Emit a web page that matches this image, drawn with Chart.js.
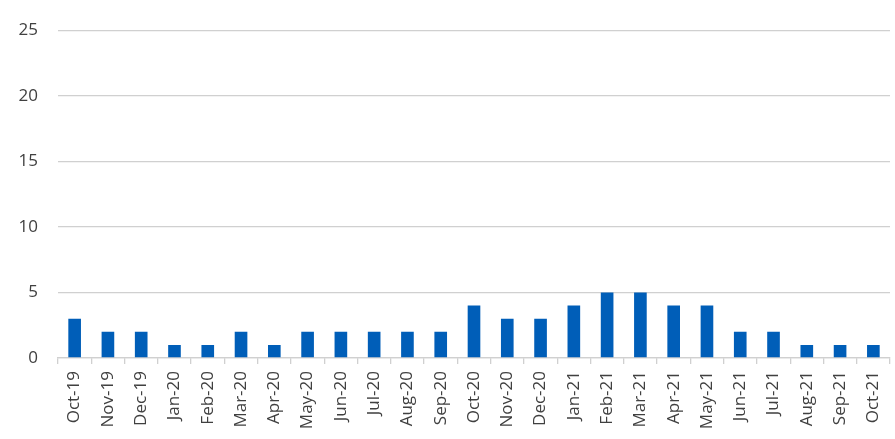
<!DOCTYPE html>
<html>
<head>
<meta charset="utf-8">
<script src="https://cdn.jsdelivr.net/npm/chart.js@4/dist/chart.umd.min.js"></script>
<style>
html,body{margin:0;padding:0;background:#fff;}
#wrap{width:895px;height:439px;}
</style>
</head>
<body>
<div id="wrap"><canvas id="c" width="895" height="439"></canvas></div>
<script>
const categories = ["Oct-19","Nov-19","Dec-19","Jan-20","Feb-20","Mar-20","Apr-20","May-20","Jun-20","Jul-20","Aug-20","Sep-20","Oct-20","Nov-20","Dec-20","Jan-21","Feb-21","Mar-21","Apr-21","May-21","Jun-21","Jul-21","Aug-21","Sep-21","Oct-21"];
const values = [3,2,2,1,1,2,1,2,2,2,2,2,4,3,3,4,5,5,4,4,2,2,1,1,1];
const yTicks = [0,5,10,15,20,25];

new Chart(document.getElementById('c'), {
  type: 'bar',
  data: {
    labels: categories,
    datasets: [{
      data: values,
      backgroundColor: '#005EB8',
      barPercentage: 0.38,
      categoryPercentage: 1.0
    }]
  },
  options: {
    responsive: false,
    animation: false,
    layout: { padding: { top: 30, right: 5, left: 0, bottom: 0 } },
    plugins: { legend: { display: false }, tooltip: { enabled: false } },
    scales: {
      x: {
        grid: { offset: true, drawOnChartArea: false, drawTicks: true, tickLength: 6, color: '#D0D0D0', lineWidth: 1.3 },
        border: { display: true, color: '#D0D0D0', width: 1.3 },
        ticks: {
          maxRotation: 90, minRotation: 90, autoSkip: false,
          color: '#404040', font: { family: 'Open Sans', size: 17 }, padding: 7
        },
        afterFit: (s) => { s.height = 81; s.paddingRight = 0; s.paddingLeft = 0; }
      },
      y: {
        min: 0, max: 25,
        afterBuildTicks: (s) => { s.ticks = yTicks.map(v => ({ value: v })); },
        grid: { color: '#D0D0D0', lineWidth: 1.3, drawTicks: false },
        border: { display: false },
        ticks: { color: '#404040', font: { family: 'Open Sans', size: 17 }, padding: 20 },
        afterFit: (s) => { s.width = 58; }
      }
    }
  }
});
</script>
</body>
</html>
